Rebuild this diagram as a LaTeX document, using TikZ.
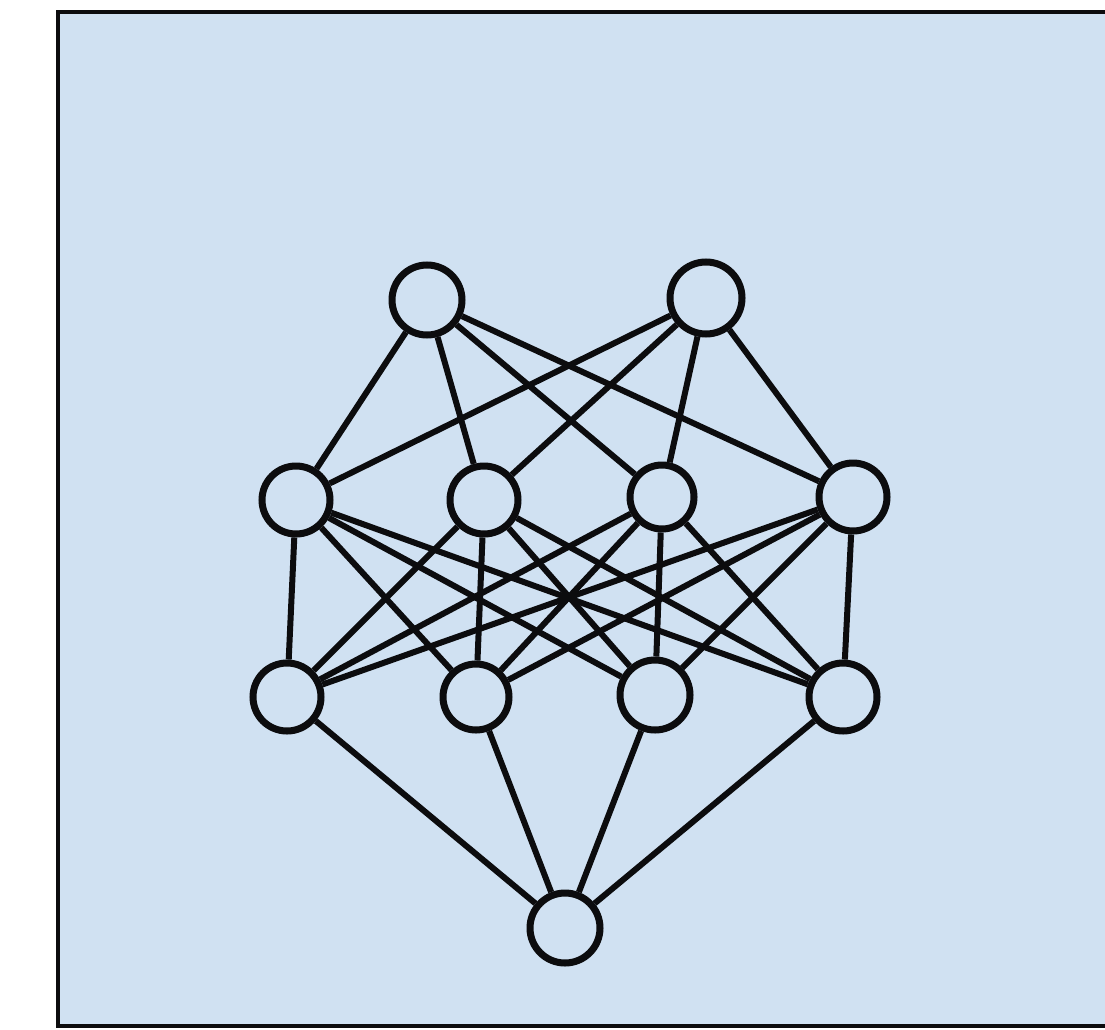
\documentclass[tikz,border=0pt]{standalone}
\definecolor{panelblue}{RGB}{208,225,242}
\definecolor{inkblack}{RGB}{12,12,14}
\begin{document}
\begin{tikzpicture}[x=1pt,y=-1pt,
  neuron/.style={circle,draw=inkblack,line width=7pt,fill=panelblue,inner sep=0pt,minimum size=#1},
  neuron/.default=70pt,
  link/.style={draw=inkblack,line width=6pt}]
\useasboundingbox (0,0) rectangle (1105,1030);
\begin{scope}
\clip (0,0) rectangle (1105,1030);
\draw[fill=panelblue,draw=inkblack,line width=4.5pt] (58,12) rectangle (1120,1026);
\end{scope}
% nodes
\node[neuron=70pt] (t1) at (427,300) {};
\node[neuron=72pt] (t2) at (706,298) {};
\node[neuron=68pt] (a1) at (296,500) {};
\node[neuron=68pt] (a2) at (484,500) {};
\node[neuron=64pt] (a3) at (662,497) {};
\node[neuron=68pt] (a4) at (853,497) {};
\node[neuron=68pt] (b1) at (287,697) {};
\node[neuron=66pt] (b2) at (476,697) {};
\node[neuron=70pt] (b3) at (655,695) {};
\node[neuron=68pt] (b4) at (843,697) {};
\node[neuron=70pt] (c) at (565,928) {};
% connectors
\foreach \u in {t1,t2}{
  \foreach \v in {a1,a2,a3,a4}{
    \draw[link] (\u) -- (\v);
  }
}
\foreach \u in {a1,a2,a3,a4}{
  \foreach \v in {b1,b2,b3,b4}{
    \draw[link] (\u) -- (\v);
  }
}
\foreach \u in {b1,b2,b3,b4}{
  \draw[link] (\u) -- (c);
}
\end{tikzpicture}
\end{document}
